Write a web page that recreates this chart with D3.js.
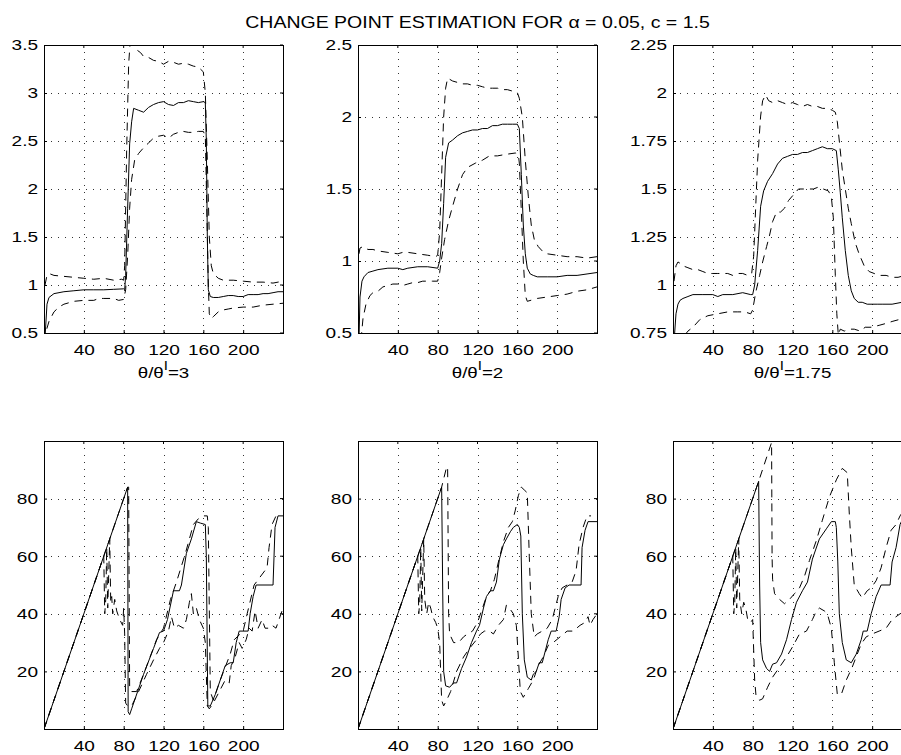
<!DOCTYPE html>
<html><head><meta charset="utf-8">
<script src="https://cdn.jsdelivr.net/npm/d3@7"></script>
<style>
body{margin:0;background:#fff;}
svg{display:block;font-family:"Liberation Sans",Arial,Helvetica,sans-serif;}
</style></head>
<body>
<script>
// ---------- DATA ----------
const titleText = "CHANGE POINT ESTIMATION FOR \u03b1 = 0.05, c = 1.5";
const xTickValues = [40, 80, 120, 160, 200];
const ratioLabels = ["3", "2", "1.75"];
const topYDomains = [[0.5, 3.5], [0.5, 2.5], [0.75, 2.25]];
const topYTicks = [[0.5, 1, 1.5, 2, 2.5, 3, 3.5], [0.5, 1, 1.5, 2, 2.5], [0.75, 1, 1.25, 1.5, 1.75, 2, 2.25]];
const bottomYDomain = [0, 100];
const bottomYTicks = [20, 40, 60, 80];

// top-left (ratio 3)
const tl_solid = [[1,0.45],[3,0.8],[5,0.87],[10,0.91],[20,0.93],[30,0.94],[40,0.95],[50,0.95],[60,0.95],[70,0.955],[80,0.96],[81,0.95],[82,1.1],[84,1.8],[86,2.47],[88,2.7],[90,2.84],[95,2.82],[100,2.8],[105,2.85],[110,2.88],[115,2.9],[120,2.91],[125,2.88],[130,2.87],[135,2.9],[140,2.9],[145,2.92],[150,2.91],[155,2.9],[160,2.91],[162,2.9],[163,2.5],[164,1.5],[165,0.95],[167,0.88],[170,0.87],[175,0.87],[180,0.88],[185,0.89],[190,0.89],[195,0.88],[200,0.88],[205,0.9],[210,0.9],[215,0.9],[220,0.91],[225,0.91],[230,0.92],[235,0.93],[240,0.93]];
const tl_upper = [[1,1.0],[3,1.1],[5,1.12],[10,1.1],[20,1.09],[30,1.08],[40,1.07],[50,1.06],[60,1.07],[70,1.05],[78,1.06],[80,1.05],[81,1.2],[83,2.4],[85,3.3],[87,3.6],[90,3.55],[93,3.45],[97,3.42],[100,3.38],[105,3.37],[110,3.34],[115,3.33],[120,3.3],[125,3.33],[130,3.32],[135,3.3],[140,3.31],[145,3.3],[150,3.28],[155,3.27],[160,3.22],[162,3.0],[164,2.3],[166,1.5],[168,1.2],[170,1.12],[175,1.07],[180,1.05],[190,1.05],[200,1.04],[210,1.03],[220,1.03],[230,1.02],[240,1.04]];
const tl_lower = [[1,0.4],[3,0.55],[5,0.62],[10,0.72],[15,0.77],[20,0.8],[30,0.83],[40,0.84],[50,0.84],[55,0.86],[60,0.86],[70,0.86],[75,0.84],[80,0.85],[82,0.95],[84,1.3],[86,1.8],[88,2.1],[91,2.3],[95,2.37],[100,2.43],[105,2.48],[110,2.53],[115,2.55],[120,2.56],[125,2.53],[130,2.57],[135,2.59],[140,2.6],[145,2.59],[150,2.59],[155,2.6],[160,2.6],[162,2.55],[163.5,1.8],[165,1.0],[166,0.7],[168,0.65],[170,0.67],[175,0.72],[180,0.74],[185,0.75],[190,0.76],[200,0.77],[210,0.77],[220,0.79],[230,0.8],[240,0.81]];

// top-middle (ratio 2)
const tm_solid = [[1,0.45],[2,0.75],[4,0.86],[6,0.89],[10,0.92],[15,0.93],[20,0.94],[30,0.95],[40,0.95],[45,0.94],[50,0.95],[60,0.96],[70,0.96],[80,0.95],[82,1.0],[84,1.12],[86,1.4],[88,1.72],[91,1.82],[95,1.84],[100,1.87],[105,1.89],[110,1.9],[115,1.91],[120,1.91],[125,1.92],[130,1.92],[135,1.94],[140,1.94],[145,1.95],[150,1.95],[155,1.95],[160,1.95],[162,1.92],[164,1.6],[166,1.25],[168,1.05],[170,0.95],[173,0.91],[176,0.9],[180,0.89],[190,0.89],[200,0.89],[210,0.9],[220,0.9],[230,0.91],[240,0.92]];
const tm_upper = [[1,1.05],[2,1.09],[5,1.1],[10,1.08],[15,1.08],[20,1.07],[30,1.06],[40,1.05],[45,1.06],[50,1.06],[60,1.05],[70,1.04],[78,1.03],[80,1.04],[82,1.2],[84,1.6],[86,2.0],[88,2.2],[90,2.27],[95,2.25],[100,2.24],[105,2.23],[110,2.23],[115,2.22],[120,2.22],[125,2.21],[130,2.2],[135,2.2],[140,2.2],[145,2.19],[150,2.19],[155,2.18],[160,2.17],[162,2.13],[165,2.0],[168,1.7],[171,1.45],[174,1.25],[177,1.15],[181,1.1],[185,1.07],[190,1.05],[200,1.04],[210,1.03],[220,1.03],[230,1.02],[240,1.03]];
const tm_lower = [[3,0.45],[5,0.6],[8,0.7],[12,0.76],[15,0.78],[20,0.79],[25,0.82],[30,0.83],[35,0.84],[40,0.84],[45,0.83],[50,0.84],[55,0.85],[60,0.85],[65,0.86],[70,0.86],[75,0.86],[80,0.86],[82,0.92],[84,1.02],[87,1.15],[91,1.28],[95,1.38],[100,1.5],[105,1.6],[110,1.65],[118,1.68],[125,1.7],[132,1.73],[140,1.73],[148,1.74],[158,1.75],[161,1.74],[162,1.68],[164,1.35],[166,1.0],[168,0.76],[170,0.72],[175,0.73],[180,0.74],[190,0.75],[200,0.76],[210,0.77],[220,0.79],[230,0.8],[240,0.82]];

// top-right (ratio 1.75)
const tr_solid = [[1,0.7],[3,0.85],[5,0.9],[7,0.92],[10,0.93],[15,0.94],[20,0.95],[30,0.95],[40,0.95],[45,0.94],[50,0.95],[60,0.95],[70,0.96],[78,0.95],[80,0.95],[82,1.0],[85,1.18],[88,1.41],[91,1.49],[95,1.54],[100,1.58],[105,1.63],[110,1.66],[115,1.67],[120,1.68],[125,1.68],[130,1.69],[135,1.69],[140,1.7],[145,1.71],[150,1.72],[155,1.71],[160,1.71],[164,1.7],[166,1.6],[168,1.48],[170,1.35],[173,1.18],[176,1.05],[179,0.97],[182,0.93],[186,0.91],[190,0.91],[195,0.9],[200,0.9],[205,0.9],[210,0.9],[220,0.9],[230,0.91],[240,0.92]];
const tr_upper = [[1,1.02],[3,1.1],[5,1.12],[8,1.11],[10,1.1],[15,1.09],[20,1.08],[25,1.08],[30,1.07],[35,1.06],[40,1.06],[45,1.06],[50,1.06],[55,1.06],[60,1.05],[65,1.06],[70,1.06],[75,1.05],[79,1.06],[81,1.15],[83,1.4],[85,1.65],[88,1.88],[90,1.96],[93,1.99],[96,1.96],[100,1.95],[105,1.96],[110,1.95],[115,1.94],[120,1.95],[125,1.94],[130,1.93],[135,1.94],[140,1.93],[145,1.93],[150,1.92],[155,1.92],[160,1.91],[163,1.9],[165,1.85],[167,1.75],[170,1.6],[173,1.5],[176,1.4],[179,1.32],[183,1.22],[187,1.16],[192,1.1],[197,1.07],[202,1.06],[207,1.05],[214,1.05],[220,1.04],[226,1.04],[233,1.05],[240,1.05]];
const tr_lower = [[12,0.74],[15,0.76],[20,0.78],[27,0.82],[35,0.84],[45,0.85],[55,0.86],[65,0.86],[72,0.86],[78,0.85],[80,0.87],[83,0.96],[87,1.05],[90,1.12],[94,1.2],[97,1.26],[100,1.33],[104,1.38],[108,1.38],[112,1.4],[116,1.44],[121,1.47],[126,1.5],[131,1.5],[136,1.5],[141,1.5],[146,1.51],[151,1.5],[156,1.49],[159,1.46],[161,1.35],[163,1.05],[164.5,0.85],[166,0.74],[168,0.77],[172,0.76],[177,0.77],[182,0.77],[188,0.76],[193,0.78],[199,0.78],[207,0.79],[214,0.8],[220,0.81],[227,0.82],[234,0.83],[240,0.84]];

// bottom-left (ratio 3)
const bl_solid = [[0,0],[84,84],[84.5,6],[86,5],[88,7],[100,19],[110,28],[116,33.5],[120,34],[124,38],[130,48],[136,48],[138,50],[143,61],[148,66],[153,72],[157,71.5],[162,71],[163,60],[164.5,8],[167,8],[172,12],[177,17],[182,22],[187,23],[190,23],[193,30],[196,34],[205,34],[207,40],[210,46],[213,50],[230,50],[232,70],[235,74],[240,74]];
const bl_upper = [[0,0],[84,84],[85,84],[86,14],[88,13],[93,13],[100,19],[113,31],[120,35],[127,45],[133,51],[142,61],[150,71],[155,73],[160,74],[164,74],[165,70],[167,13],[170,10],[177,17],[187,26],[191,31],[200,34],[204,40],[211,50],[224,56],[226,63],[229,71],[233,74],[236,74]];
const bl_lower = [[0,0],[58,58],[60,60],[61,40],[62,45],[63,63],[64,42],[66,66],[67,44],[68,46],[69,40],[71,45],[73,41],[76,38],[79,36],[80,42],[81,33],[82,9],[84,8],[88,8],[95,13],[103,19],[110,24],[116,28],[120,30],[125,34],[128,39],[131,35],[135,36],[140,35],[143,38],[146,44],[148,47],[150,40],[153,42],[156,38],[160,35],[162,30],[164,8],[166,7],[170,9],[176,13],[182,17],[186,16],[188,22],[192,25],[196,30],[199,28],[203,31],[206,35],[209,34],[212,41],[215,35],[219,38],[222,35],[226,35],[229,36],[233,35],[236,38],[240,42]];

// bottom-middle (ratio 2)
const bm_solid = [[0,0],[84,84],[85,50],[86,20],[88,15],[92,14.5],[96,16],[99,16],[104,21],[109,25],[114,30],[119,34],[122,36],[126,42],[129,46],[133,48],[136,48],[139,51],[142,59],[146,64],[149,66],[153,68.5],[156,70],[160,71],[162,70],[163.5,67],[165,40],[167,24],[170,18],[174,17],[176,19],[179,20],[182,23],[185,23],[188,27],[191,31],[194,34],[199,34],[202,39],[204,45],[208,49],[212,50],[224,50],[225,63],[228,69],[231,72],[240,72]];
const bm_upper = [[0,0],[84,84],[89,91],[90,91],[91,40],[92,33],[96,30],[101,30],[106,32],[110,33],[115,34],[120,37],[124,41],[129,46],[133,48],[137,52],[141,58],[146,65],[151,70],[155,72],[158,76],[161,81],[164,84],[167,83],[170,82],[172,60],[174,40],[177,32],[180,33],[185,34],[190,35],[195,38],[198,42],[201,46],[205,49],[210,50],[215,51],[219,55],[222,64],[226,70],[230,74],[234,74]];
const bm_lower = [[0,0],[58,58],[60,60],[61,40],[62,44],[63,63],[64,41],[66,66],[67,45],[69,40],[71,44],[73,42],[75,39],[78,37],[80,35],[82,30],[83,20],[84,10],[86,8],[89,10],[93,13],[99,20],[106,25],[112,28],[119,31],[123,33],[127,34],[132,34],[136,33],[141,36],[146,38],[149,43],[152,42],[156,40],[159,36],[161,25],[163,13],[166,11],[171,14],[176,17],[181,22],[186,25],[191,29],[196,30],[203,32],[210,34],[216,34],[223,36],[228,37],[231,39],[233,36],[236,38],[240,40]];

// bottom-right (ratio 1.75)
const br_solid = [[0,0],[86,86],[87,50],[88,30],[90,24],[94,21],[97,20],[100,22.5],[104,23],[109,26],[114,31],[119,38],[124,44],[130,48],[135,51],[140,59],[147,66],[154,69.5],[159,72],[163,72],[164,70],[165.5,58],[167,40],[170,30],[174,24],[179,23],[184,26],[189,31],[191,34],[195,34],[199,40],[204,46],[209,50],[218,50],[220,58],[224,63],[228,71],[232,74],[240,74]];
const br_upper = [[0,0],[86,86],[99,99.5],[99.5,60],[100,52],[102,47],[107,45],[112,43.5],[117,45],[122,47],[127,49],[132,53],[137,58.5],[144,65.5],[150,72.5],[157,80.5],[164,86.5],[170,90.5],[175,89],[177,75],[179,63],[182,50],[187,47],[190,45.5],[195,48],[199,49],[204,51.5],[209,56],[214,63],[219,69],[224,71],[228,74],[232,76],[240,78]];
const br_lower = [[0,0],[58,58],[60,60],[61,40],[62,44],[63,63],[64,42],[66,66],[67,45],[69,40],[71,44],[73,42],[75,38],[78,37],[80,38],[82,17],[83.5,11],[87,10],[90,10.5],[95,14.5],[100,18],[107,21.5],[114,25],[120,28.5],[127,33],[134,34],[140,38],[144,41],[147,42],[152,41],[155,40],[159,35],[162,23],[165,12],[169,12],[174,17],[180,21.5],[185,26],[189,29.5],[194,32],[200,33],[207,34],[214,35],[220,38],[228,40],[234,41],[240,43]];

// ---------- LAYOUT ----------
const W = 901, H = 755;
const colLeft = [44, 358, 673];
const axW = 239, axH = 288;
const rowTop = [45, 441];
const xDomain = [0, 240];
const SX = 1.27; // horizontal stretch of the reference typography

const svg = d3.select("body").append("svg").attr("width", W).attr("height", H);

svg.append("text")
  .attr("transform", `translate(${colLeft[1] + axW / 2},28) scale(1.22,1)`)
  .attr("text-anchor", "middle").attr("font-size", 16).text(titleText);

const panels = [
  {r:0,c:0,yd:topYDomains[0],yt:topYTicks[0],s:[tl_solid,tl_upper,tl_lower]},
  {r:0,c:1,yd:topYDomains[1],yt:topYTicks[1],s:[tm_solid,tm_upper,tm_lower]},
  {r:0,c:2,yd:topYDomains[2],yt:topYTicks[2],s:[tr_solid,tr_upper,tr_lower]},
  {r:1,c:0,yd:bottomYDomain,yt:bottomYTicks,s:[bl_solid,bl_upper,bl_lower]},
  {r:1,c:1,yd:bottomYDomain,yt:bottomYTicks,s:[bm_solid,bm_upper,bm_lower]},
  {r:1,c:2,yd:bottomYDomain,yt:bottomYTicks,s:[br_solid,br_upper,br_lower]}
];

panels.forEach((p, i) => {
  const x0 = colLeft[p.c], y0 = rowTop[p.r];
  const g = svg.append("g").attr("transform", `translate(${x0},${y0})`);
  const x = d3.scaleLinear().domain(xDomain).range([0, axW]);
  const y = d3.scaleLinear().domain(p.yd).range([axH, 0]);

  // grid
  const interiorY = p.yt.filter(v => v > p.yd[0] && v < p.yd[1]);
  g.append("g").selectAll("line").data(xTickValues).join("line")
    .attr("x1", d => Math.round(x(d)) + 0.5).attr("x2", d => Math.round(x(d)) + 0.5)
    .attr("y1", 0).attr("y2", axH)
    .attr("stroke", "#333").attr("stroke-width", 1).attr("stroke-dasharray", "1,6");
  g.append("g").selectAll("line").data(interiorY).join("line")
    .attr("y1", d => Math.round(y(d)) + 0.5).attr("y2", d => Math.round(y(d)) + 0.5)
    .attr("x1", 0).attr("x2", axW)
    .attr("stroke", "#333").attr("stroke-width", 1).attr("stroke-dasharray", "1,6");

  // clip
  const cid = "clip" + i;
  g.append("clipPath").attr("id", cid).append("rect").attr("width", axW).attr("height", axH);

  const line = d3.line().x(d => x(d[0])).y(d => y(d[1]));
  const lg = g.append("g").attr("clip-path", `url(#${cid})`);
  p.s.forEach((ser, k) => {
    lg.append("path").datum(ser).attr("d", line)
      .attr("fill", "none").attr("stroke", "#000").attr("stroke-width", 1)
      .attr("stroke-dasharray", k === 0 ? null : "8,6");
  });

  // axes (ticks inward, MATLAB style)
  const xAxis = d3.axisBottom(x).tickValues(xTickValues).tickSize(-3).tickPadding(11).tickFormat(d3.format("d"));
  const yAxis = d3.axisLeft(y).tickValues(p.yt).tickSize(-3).tickPadding(6).tickFormat(d => String(d));
  const xa = g.append("g").attr("transform", `translate(0,${axH})`).call(xAxis);
  const ya = g.append("g").call(yAxis);
  [xa, ya].forEach(a => {
    a.select(".domain").remove();
    a.selectAll("text").attr("font-size", 15).attr("fill", "#000")
      .attr("font-family", "Liberation Sans, Arial, sans-serif")
      .attr("transform", `scale(${SX},1)`);
    a.selectAll("line").attr("stroke", "#000");
  });
  ya.selectAll("text").attr("x", -6 / SX);

  // top/right ticks
  g.append("g").selectAll("line").data(xTickValues).join("line")
    .attr("x1", d => x(d)).attr("x2", d => x(d)).attr("y1", 0).attr("y2", 3).attr("stroke", "#000");
  g.append("g").selectAll("line").data(p.yt).join("line")
    .attr("y1", d => y(d)).attr("y2", d => y(d)).attr("x1", axW).attr("x2", axW - 3).attr("stroke", "#000");

  // box
  g.append("rect").attr("x", 0.5).attr("y", 0.5).attr("width", axW).attr("height", axH)
    .attr("fill", "none").attr("stroke", "#000").attr("stroke-width", 1);

  if (p.r === 0) {
    const t = g.append("text")
      .attr("transform", `translate(${axW / 2},${axH + 45}) scale(1.25,1)`)
      .attr("text-anchor", "middle").attr("font-size", 15);
    t.append("tspan").text("\u03b8/\u03b8");
    t.append("tspan").attr("font-size", 12).attr("dy", -8).text("I");
    t.append("tspan").attr("dy", 8).text("=" + ratioLabels[p.c]);
  }
});
</script>
</body></html>
